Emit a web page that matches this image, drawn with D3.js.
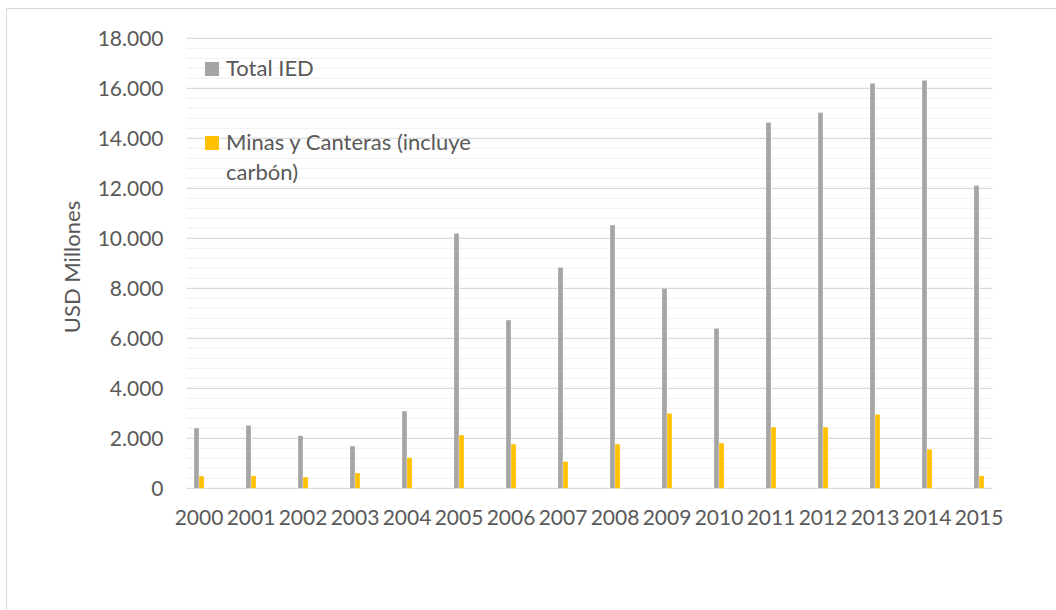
<!DOCTYPE html>
<html>
<head>
<meta charset="utf-8">
<script src="https://cdn.jsdelivr.net/npm/d3@7/dist/d3.min.js"></script>
<style>
  html, body { margin: 0; padding: 0; background: #fff; }
  svg { display: block; }
  text { font-family: "Lato", "Open Sans", sans-serif; fill: #595959; }
</style>
</head>
<body>
<svg id="chart" width="1056" height="610"></svg>
<script>
const years = ["2000","2001","2002","2003","2004","2005","2006","2007","2008","2009","2010","2011","2012","2013","2014","2015"];
const totalIED = [2410, 2520, 2100, 1690, 3090, 10200, 6730, 8840, 10530, 8000, 6400, 14640, 15030, 16200, 16320, 12110];
const minas = [490, 500, 450, 610, 1220, 2130, 1770, 1070, 1770, 3000, 1810, 2450, 2450, 2960, 1560, 500];
const yTicks = [0, 2000, 4000, 6000, 8000, 10000, 12000, 14000, 16000, 18000];
const seriesNames = ["Total IED", "Minas y Canteras (incluye carbón)"];
const seriesColors = ["#A5A5A5", "#FFC000"];

const svg = d3.select("#chart");
const fontSize = 21;
const legendFontSize = 22;

// chart border
svg.append("rect").attr("x", 6.5).attr("y", 8.5).attr("width", 1100).attr("height", 700)
  .attr("fill", "none").attr("stroke", "#D9D9D9").attr("stroke-width", 1);

const plotLeft = 186.7, plotRight = 992.3;
const y = d3.scaleLinear().domain([0, 18000]).range([488.3, 38.3]);
const x = d3.scaleBand().domain(years).range([173, 1005]).paddingInner(0).paddingOuter(0);
const xs = d3.scaleBand().domain([0, 1]).range([-5, 5]);

// minor gridlines
const minorTicks = d3.range(0, 18001, 400).filter(v => v % 2000 !== 0);
svg.append("g").selectAll("line").data(minorTicks).join("line")
  .attr("x1", plotLeft).attr("x2", plotRight)
  .attr("y1", d => y(d)).attr("y2", d => y(d))
  .attr("stroke", "#F2F2F2").attr("stroke-width", 1.3);

// major gridlines
svg.append("g").selectAll("line").data(yTicks).join("line")
  .attr("x1", plotLeft).attr("x2", plotRight)
  .attr("y1", d => y(d)).attr("y2", d => y(d))
  .attr("stroke", "#D9D9D9").attr("stroke-width", 1.3);

// y axis labels
const fmt = v => v === 0 ? "0" : d3.format(",")(v).replace(/,/g, ".");
const yAxis = d3.axisLeft(y).tickValues(yTicks).tickFormat(fmt).tickSize(0).tickPadding(0);
const ya = svg.append("g").attr("transform", "translate(163.5,0)").call(yAxis);
ya.select(".domain").remove();
ya.selectAll("text").attr("font-size", fontSize).attr("fill", "#595959")
  .style("font-family", "Lato, 'Open Sans', sans-serif");

// x axis labels
const xAxis = d3.axisBottom(x).tickSize(0).tickPadding(0);
const xa = svg.append("g").attr("transform", "translate(0,510)").call(xAxis);
xa.select(".domain").remove();
xa.selectAll("text").attr("font-size", fontSize).attr("fill", "#595959")
  .style("font-family", "Lato, 'Open Sans', sans-serif");

// bars
const series = [totalIED, minas];
series.forEach((vals, si) => {
  svg.append("g").selectAll("rect").data(vals).join("rect")
    .attr("x", (d, i) => x(years[i]) + x.bandwidth() / 2 + xs(si))
    .attr("width", xs.bandwidth())
    .attr("y", d => y(d))
    .attr("height", d => y(0) - y(d))
    .attr("fill", seriesColors[si])
    .attr("stroke", "rgba(255,255,255,0.5)").attr("stroke-width", 0.6);
});

// legend
const legend = svg.append("g");
legend.append("rect").attr("x", 205).attr("y", 62).attr("width", 14).attr("height", 14).attr("fill", seriesColors[0]);
legend.append("text").attr("x", 226).attr("y", 76).attr("font-size", legendFontSize).text(seriesNames[0]);
legend.append("rect").attr("x", 205).attr("y", 136).attr("width", 14).attr("height", 14).attr("fill", seriesColors[1]);
const t2 = legend.append("text").attr("x", 226).attr("y", 150).attr("font-size", legendFontSize);
t2.append("tspan").attr("x", 226).text("Minas y Canteras (incluye");
t2.append("tspan").attr("x", 226).attr("dy", 30).text("carbón)");

// y axis title
svg.append("text")
  .attr("transform", "translate(80,267) rotate(-90)")
  .attr("text-anchor", "middle")
  .attr("font-size", legendFontSize)
  .text("USD Millones");
</script>
</body>
</html>
